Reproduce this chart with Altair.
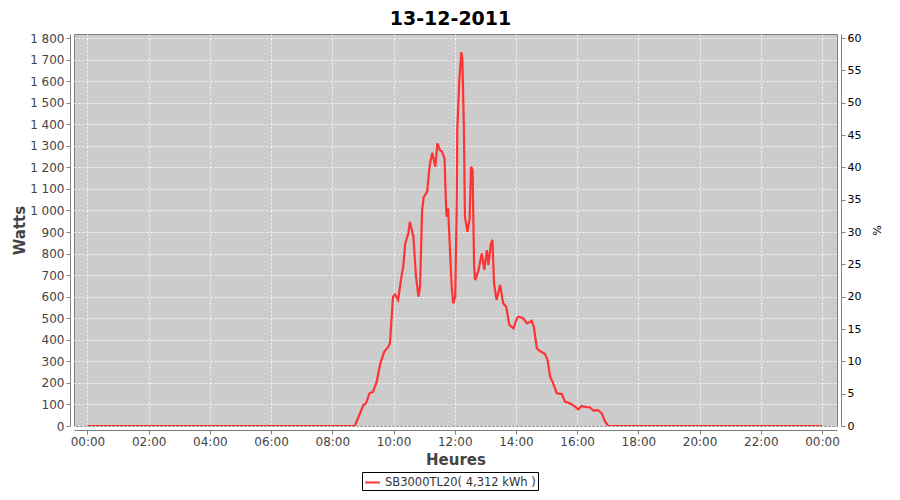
import altair as alt
import pandas as pd

# --- data ---
times = ["00:00", "08:44", "09:01", "09:06", "09:13", "09:20", "09:27", "09:34", "09:42",
         "09:50", "09:53", "09:59", "10:03", "10:09", "10:16", "10:19", "10:23", "10:29",
         "10:32", "10:39", "10:44", "10:49", "10:52", "10:56", "10:59", "11:02", "11:06",
         "11:11", "11:16", "11:22", "11:26", "11:31", "11:35", "11:40", "11:43", "11:44",
         "11:47", "11:54", "11:57", "12:01", "12:04", "12:05", "12:09", "12:13", "12:15",
         "12:18", "12:20", "12:25", "12:29", "12:32", "12:35", "12:38", "12:40", "12:46",
         "12:53", "12:58", "13:03", "13:06", "13:11", "13:14", "13:17", "13:22", "13:29",
         "13:35", "13:41", "13:47", "13:55", "14:02", "14:05", "14:14", "14:22", "14:31",
         "14:35", "14:41", "14:47", "14:57", "15:02", "15:07", "15:13", "15:20", "15:30",
         "15:36", "15:46", "15:56", "16:02", "16:09", "16:19", "16:25", "16:32", "16:41",
         "16:48", "16:55", "17:01", "24:00"]
watts = [0, 0, 97, 105, 152, 159, 206, 291, 345,
         368, 384, 600, 610, 585, 700, 739, 847, 894,
         948, 878, 693, 600, 646, 1000, 1060, 1072, 1087,
         1211, 1268, 1203, 1311, 1280, 1273, 1242, 1017, 971,
         1010, 646, 569, 600, 1048, 1373, 1605, 1735, 1698,
         1373, 971, 901, 956, 1203, 1188, 739, 677, 716,
         801, 724, 816, 747, 847, 863, 662, 585, 654,
         569, 553, 469, 453, 500, 507, 500, 476, 488,
         461, 360, 348, 334, 306, 229, 198, 152, 148,
         113, 105, 90, 77, 93, 87, 87, 71, 74,
         59, 20, 0, 0]
series_name = "SB3000TL20( 4,312 kWh )"
chart_title = "13-12-2011"
hour_ticks = [0, 2, 4, 6, 8, 10, 12, 14, 16, 18, 20, 22, 24]
watt_ticks = list(range(0, 1900, 100))
pct_ticks = list(range(0, 65, 5))

def to_hours(s):
    h, m = s.split(":")
    return int(h) + int(m) / 60.0

df = pd.DataFrame({
    "hour": [to_hours(t) for t in times],
    "watts": watts,
    "serie": [series_name] * len(times),
})

W_MAX = 1818.6
X_MIN, X_MAX = -0.44, 24.49
FONT = "DejaVu Sans"

x_enc = alt.X(
    "hour:Q",
    scale=alt.Scale(domain=[X_MIN, X_MAX], nice=False, zero=False),
    axis=alt.Axis(
        values=hour_ticks,
        labelExpr="(datum.value % 24 < 10 ? '0' : '') + (datum.value % 24) + ':00'",
        title="Heures",
        titleFontSize=15,
        titleFontWeight="bold",
        titleColor="#444444",
        titlePadding=5,
        labelColor="#444444",
        labelFontSize=12,
        labelFlush=False,
        offset=4,
        tickSize=4,
        domainColor="#808080",
        tickColor="#808080",
        grid=True,
        gridColor="#ffffff",
        gridDash=[2, 2],
        gridOpacity=0.85,
    ),
)

line = alt.Chart(df).mark_line(strokeWidth=2.2, clip=True).encode(
    x=x_enc,
    y=alt.Y(
        "watts:Q",
        scale=alt.Scale(domain=[0, W_MAX], nice=False),
        axis=alt.Axis(
            values=watt_ticks,
            labelExpr="replace(format(datum.value, ','), ',', ' ')",
            title="Watts",
            titleFontSize=15,
            titleFontWeight="bold",
            titleColor="#444444",
            titlePadding=2,
            labelColor="#444444",
            labelFontSize=12,
            labelPadding=2,
            offset=4,
            tickSize=4,
            domainColor="#808080",
            tickColor="#808080",
            grid=True,
            gridColor="#ffffff",
            gridDash=[2, 2],
            gridOpacity=0.85,
        ),
    ),
    color=alt.Color(
        "serie:N",
        scale=alt.Scale(domain=[series_name], range=["#ff3333"]),
        legend=alt.Legend(
            title=None,
            orient="none",
            legendX=288,
            legendY=438,
            strokeColor="#000000",
            fillColor="#ffffff",
            padding=2,
            cornerRadius=0,
            symbolType="stroke",
            symbolStrokeWidth=2,
            symbolSize=220,
            labelFontSize=11.5,
            labelColor="#333333",
            labelFont=FONT,
        ),
    ),
)

pct = alt.Chart(df).transform_calculate(pct="datum.watts / 30").mark_line(
    opacity=0, clip=True
).encode(
    x=alt.X("hour:Q", scale=alt.Scale(domain=[X_MIN, X_MAX], nice=False, zero=False)),
    y=alt.Y(
        "pct:Q",
        scale=alt.Scale(domain=[0, W_MAX / 30], nice=False),
        axis=alt.Axis(
            orient="right",
            values=pct_ticks,
            title="%",
            titleAngle=90,
            titleFontSize=11,
            titleFontWeight="normal",
            titleColor="#000000",
            titlePadding=10,
            labelColor="#000000",
            labelFontSize=11,
            labelPadding=2,
            offset=4,
            tickSize=4,
            domainColor="#808080",
            tickColor="#808080",
            grid=False,
        ),
    ),
)

chart = (
    alt.layer(line, pct)
    .resolve_scale(y="independent")
    .properties(
        width=763,
        height=392,
        autosize=alt.AutoSizeParams(type="none"),
        padding={"left": 66, "top": 26, "right": 54, "bottom": 66},
        title=alt.TitleParams(
            chart_title, fontSize=19, fontWeight="bold", color="#000000",
            font=FONT, anchor="middle", offset=3, dx=-5,
        ),
        background="#ffffff",
    )
    .configure_view(fill="#cccccc", stroke="#808080", strokeWidth=1)
    .configure_axis(labelFont=FONT, titleFont=FONT)
)

chart.save("out.html", embed_options={"renderer": "svg", "actions": False})
